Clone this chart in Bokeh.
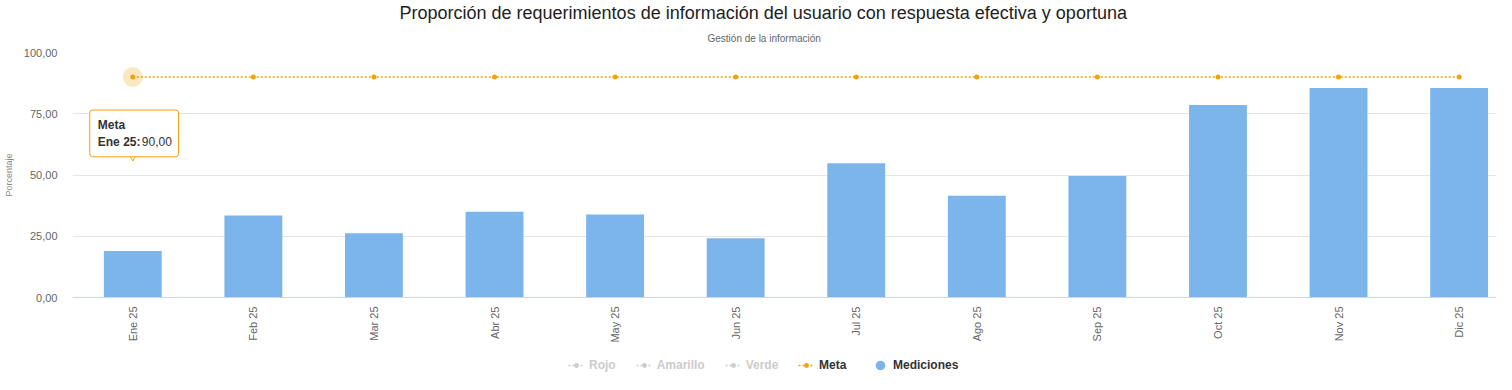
import math
from bokeh.plotting import figure
from bokeh.layouts import column
from bokeh.models import (Range1d, FixedTicker, Title, Legend, LegendItem, Label,
                          ColumnDataSource)
from bokeh.embed import file_html
from bokeh.resources import INLINE

# ---------------- data ----------------
categories = ["Ene 25", "Feb 25", "Mar 25", "Abr 25", "May 25", "Jun 25",
              "Jul 25", "Ago 25", "Sep 25", "Oct 25", "Nov 25", "Dic 25"]
mediciones = [19.0, 33.5, 26.2, 35.0, 33.9, 24.2, 54.8, 41.5, 49.6, 78.6, 85.5, 85.5]
meta = [90.0] * 12
y_ticks = [0, 25, 50, 75, 100]
y_tick_labels = ["0,00", "25,00", "50,00", "75,00", "100,00"]
hidden_series = ["Rojo", "Amarillo", "Verde"]

title_text = "Proporción de requerimientos de información del usuario con respuesta efectiva y oportuna"
subtitle_text = "Gestión de la información"
y_title = "Porcentaje"

FONT = "Liberation Sans"
BAR = "#7cb5ec"
META = "#f0a30a"
GRAY = "#cccccc"
NAN = float("nan")

xs = list(range(len(categories)))
src = ColumnDataSource(dict(x=xs, med=mediciones, meta=meta, cat=categories))

FRAME_H = 250
p = figure(width=1496, height=47 + FRAME_H + 48, output_backend="svg", toolbar_location=None,
           x_range=Range1d(-0.5, 11.31), y_range=Range1d(0, 100),
           min_border_left=68, min_border_right=0, min_border_top=47,
           min_border_bottom=48)
p.outline_line_color = None
p.background_fill_color = "white"
p.border_fill_color = "white"

# titles (first added = closest to the frame)
sub = Title(text=subtitle_text, align="left", text_font=FONT, text_font_size="10px",
            text_font_style="normal", text_color="#666666", offset=635, standoff=17)
p.add_layout(sub, "above")
main = Title(text=title_text, align="left", text_font=FONT, text_font_size="18px",
             text_font_style="normal", text_color="#222222", offset=327, standoff=0)
p.add_layout(main, "above")

# bars
p.vbar(x="x", top="med", width=0.48, source=src, fill_color=BAR, line_color=None)

# meta line
p.line(x="x", y="meta", source=src, line_color=META, line_width=1.5, line_dash="2 2")
p.scatter(x=xs[:1], y=meta[:1], size=20, fill_color=META, fill_alpha=0.25, line_color=None)
p.scatter(x="x", y="meta", source=src, size=5, fill_color=META, line_color=None)

# axes
p.yaxis.ticker = FixedTicker(ticks=y_ticks)
p.yaxis.major_label_overrides = {t: l for t, l in zip(y_ticks, y_tick_labels)}
p.yaxis.axis_line_color = None
p.yaxis.major_tick_line_color = None
p.yaxis.minor_tick_line_color = None
p.yaxis.major_tick_out = 0
p.yaxis.major_tick_in = 0
p.yaxis.major_label_standoff = 15
p.yaxis.major_label_text_font = FONT
p.yaxis.major_label_text_font_size = "11px"
p.yaxis.major_label_text_color = "#666666"
p.yaxis.axis_label = y_title
p.yaxis.axis_label_text_font = FONT
p.yaxis.axis_label_text_font_size = "9px"
p.yaxis.axis_label_text_font_style = "normal"
p.yaxis.axis_label_text_color = "#888888"
p.yaxis.axis_label_standoff = 7

p.xaxis.ticker = FixedTicker(ticks=xs)
p.xaxis.major_label_overrides = {i: c for i, c in zip(xs, categories)}
p.xaxis.major_label_orientation = math.pi / 2
p.xaxis.axis_line_color = "#ccd6eb"
p.xaxis.major_tick_line_color = None
p.xaxis.minor_tick_line_color = None
p.xaxis.major_tick_out = 0
p.xaxis.major_tick_in = 0
p.xaxis.major_label_standoff = 9
p.xaxis.major_label_text_font = FONT
p.xaxis.major_label_text_font_size = "11px"
p.xaxis.major_label_text_color = "#666666"

p.xgrid.grid_line_color = None
p.ygrid.grid_line_color = "#e6e6e6"
p.ygrid.ticker = FixedTicker(ticks=y_ticks)

# tooltip (pointer + box + text), anchored to the first "Meta" point
px_per_unit = FRAME_H / 100.0
p.scatter(x=xs[:1], y=[meta[0] - 78 / px_per_unit], marker="inverted_triangle", size=13,
          fill_color="white", line_color=META, line_width=1)
box = Label(x=xs[0], y=meta[0], x_offset=-43, y_offset=-33, anchor="top_left",
            text="Meta\nEne 25:90,00", text_font=FONT, text_font_size="12px",
            text_font_style="bold", text_color="white", padding=8,
            background_fill_color="white", background_fill_alpha=1.0,
            border_line_color=META, border_line_width=1, border_radius=3)
p.add_layout(box)
t1 = Label(x=xs[0], y=meta[0], x_offset=-43, y_offset=-33, anchor="top_left",
           text="Meta\nEne 25:", text_font=FONT, text_font_size="12px",
           text_font_style="bold", text_color="#333333", padding=8)
p.add_layout(t1)
t2 = Label(x=xs[0], y=meta[0], x_offset=-43 + 44, y_offset=-33, anchor="top_left",
           text=" \n90,00", text_font=FONT, text_font_size="12px",
           text_font_style="normal", text_color="#333333", padding=8)
p.add_layout(t2)

# ---------------- legend strip ----------------
lf = figure(width=1496, height=374 - (47 + FRAME_H + 48), output_backend="svg",
            toolbar_location=None, x_range=Range1d(0, 1), y_range=Range1d(0, 1),
            x_axis_type=None, y_axis_type=None,
            min_border_left=68, min_border_right=0, min_border_top=0, min_border_bottom=0)
lf.outline_line_color = None
lf.xgrid.grid_line_color = None
lf.ygrid.grid_line_color = None

hidden_items = []
for name in hidden_series:
    hs = ColumnDataSource(dict(x=[NAN], y=[NAN]))
    r1 = lf.line(x="x", y="y", source=hs, line_color=GRAY, line_width=1.5, line_dash="2 2")
    r2 = lf.scatter(x="x", y="y", source=hs, size=4, fill_color=GRAY, line_color=None)
    hidden_items.append(LegendItem(label=name, renderers=[r1, r2]))

ms = ColumnDataSource(dict(x=[NAN], y=[NAN]))
rm1 = lf.line(x="x", y="y", source=ms, line_color=META, line_width=1.5, line_dash="2 2")
rm2 = lf.scatter(x="x", y="y", source=ms, size=4, fill_color=META, line_color=None)
bs = ColumnDataSource(dict(x=[NAN], y=[NAN]))
rb = lf.scatter(x="x", y="y", source=bs, size=12, fill_color=BAR, line_color=None)

def mk_legend(items, loc, color, gw=16, gh=12, standoff=5):
    return Legend(items=items, location=loc, orientation="horizontal",
                  label_text_font=FONT, label_text_font_size="12px",
                  label_text_font_style="bold", label_text_color=color,
                  glyph_width=gw, glyph_height=gh, label_standoff=standoff, spacing=20,
                  padding=0, margin=0, border_line_color=None,
                  background_fill_alpha=0, label_height=14)

lf.add_layout(mk_legend(hidden_items, (496, 2), GRAY))
lf.add_layout(mk_legend([LegendItem(label="Meta", renderers=[rm1, rm2])], (726, 2), "#333333"))
lf.add_layout(mk_legend([LegendItem(label="Mediciones", renderers=[rb])], (795, -3), "#333333",
                        gw=26, gh=24, standoff=0))

layout = column(p, lf, spacing=0)
open("out.html", "w").write(file_html(layout, INLINE))
